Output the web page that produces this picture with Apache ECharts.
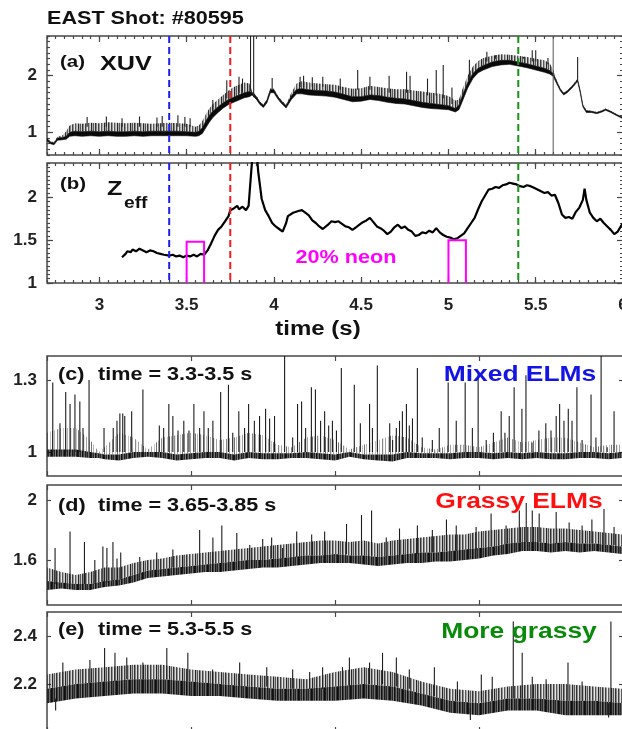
<!DOCTYPE html>
<html><head><meta charset="utf-8">
<script src="https://cdn.jsdelivr.net/npm/echarts@6/dist/echarts.min.js"></script>
<style>html,body{margin:0;padding:0;background:#fff}#c{width:622px;height:729px}</style>
</head><body><div id="c"></div>
<script>
// ---------- DATA ----------
// Panel (a) XUV: [time, band low, band high, grass top]
const xuvRows = [
[2.70,0.85,0.89,0.90],[2.72,0.80,0.83,0.84],[2.74,0.78,0.81,0.83],[2.76,0.86,0.90,0.92],[2.79,0.87,0.91,0.95],
[2.81,0.88,0.93,1.02],[2.83,0.93,1.00,1.12],[2.86,0.94,1.02,1.16],[2.90,0.93,1.01,1.15],[2.95,0.94,1.02,1.17],
[3.00,0.93,1.01,1.16],[3.05,0.94,1.02,1.18],[3.10,0.93,1.01,1.17],[3.15,0.93,1.01,1.16],[3.20,0.94,1.02,1.17],
[3.25,0.93,1.01,1.16],[3.30,0.94,1.02,1.15],[3.35,0.94,1.02,1.16],[3.40,0.94,1.02,1.17],[3.45,0.94,1.02,1.16],
[3.50,0.94,1.01,1.15],[3.55,0.93,1.00,1.10],[3.57,0.94,1.02,1.12],[3.59,0.98,1.08,1.20],[3.61,1.08,1.20,1.32],
[3.63,1.18,1.30,1.42],[3.65,1.26,1.37,1.50],[3.68,1.35,1.45,1.58],[3.71,1.43,1.52,1.66],[3.74,1.49,1.58,1.74],
[3.77,1.53,1.62,1.80],[3.80,1.57,1.66,1.84],[3.83,1.61,1.70,1.88],[3.86,1.63,1.72,1.86],[3.875,1.66,1.70,1.72],
[3.90,1.58,1.63,1.65],[3.92,1.49,1.53,1.54],[3.94,1.44,1.48,1.49],[3.96,1.52,1.57,1.58],[3.98,1.70,1.76,1.78],
[4.00,1.70,1.75,1.77],[4.02,1.60,1.64,1.66],[4.04,1.52,1.56,1.58],[4.07,1.43,1.47,1.49],[4.10,1.58,1.64,1.70],
[4.13,1.68,1.76,1.86],[4.16,1.68,1.77,1.90],[4.20,1.66,1.75,1.88],[4.25,1.65,1.74,1.86],[4.30,1.64,1.73,1.85],
[4.35,1.62,1.71,1.84],[4.40,1.58,1.67,1.80],[4.45,1.54,1.63,1.77],[4.50,1.55,1.63,1.78],[4.55,1.58,1.66,1.82],
[4.60,1.56,1.65,1.80],[4.65,1.53,1.62,1.78],[4.70,1.51,1.60,1.76],[4.75,1.50,1.59,1.76],[4.80,1.47,1.56,1.74],
[4.85,1.44,1.53,1.72],[4.90,1.42,1.51,1.70],[4.95,1.41,1.49,1.68],[5.00,1.40,1.47,1.64],[5.04,1.36,1.42,1.56],
[5.06,1.40,1.48,1.58],[5.08,1.55,1.65,1.76],[5.11,1.78,1.88,2.00],[5.14,1.95,2.04,2.16],[5.17,2.05,2.13,2.26],
[5.20,2.10,2.18,2.31],[5.25,2.16,2.24,2.35],[5.30,2.19,2.27,2.38],[5.35,2.20,2.27,2.37],[5.40,2.17,2.24,2.35],
[5.45,2.14,2.21,2.33],[5.50,2.10,2.17,2.30],[5.55,2.06,2.13,2.27],[5.58,2.03,2.09,2.22],[5.60,1.99,2.04,2.10],
[5.62,1.86,1.90,1.92],[5.64,1.74,1.77,1.78],[5.66,1.66,1.69,1.70],[5.68,1.70,1.73,1.74],[5.71,1.79,1.82,1.83],
[5.74,1.90,1.93,1.95],[5.755,1.70,1.73,1.74],[5.77,1.45,1.48,1.49],[5.79,1.35,1.38,1.39],[5.82,1.35,1.37,1.38],
[5.85,1.33,1.35,1.36],[5.88,1.36,1.38,1.39],[5.90,1.39,1.41,1.42],[5.93,1.35,1.37,1.38],[5.96,1.30,1.32,1.33],
[6.00,1.24,1.26,1.27]
];
// XUV spikes: [time, from, to]
const xuvSpikes = [
[2.93,1.1,1.27],[3.04,1.1,1.28],[3.13,1.1,1.25],[3.23,1.1,1.28],[3.33,1.1,1.26],[3.36,1.1,1.29],[3.45,1.1,1.30],
[3.49,1.1,1.27],[3.52,1.1,1.25],[3.65,1.4,1.57],[3.73,1.6,1.92],[3.80,1.7,1.98],[3.82,1.7,1.95],
[3.866,1.72,2.7],[3.884,1.62,2.7],[3.99,1.76,1.96],
[4.15,1.8,1.98],[4.17,1.8,2.00],[4.22,1.8,1.97],[4.28,1.8,1.98],[4.38,1.75,1.95],[4.48,1.75,2.10],[4.55,1.75,1.98],
[4.66,1.7,2.00],[4.76,1.7,2.07],[4.78,1.7,2.00],[4.88,1.65,1.95],[4.93,1.65,2.10],[4.97,1.6,2.19],[5.02,1.5,1.79],
[5.12,1.9,2.28],[5.22,2.25,2.42],[5.27,2.3,2.36],[5.43,2.3,2.33],[5.48,2.25,2.45],[5.50,2.25,2.45],[5.57,2.2,2.31],
[5.74,1.93,2.33]
];
const xuvGlitch = [[5.60,0.6,2.7]];

// Panel (b) Zeff: [time, value]
const zeffRows = [
[3.13,1.30],[3.15,1.34],[3.16,1.37],[3.18,1.36],[3.19,1.39],[3.21,1.37],[3.23,1.40],[3.25,1.38],[3.27,1.36],[3.29,1.38],
[3.31,1.37],[3.33,1.35],[3.35,1.34],[3.37,1.33],[3.40,1.32],[3.42,1.33],[3.44,1.31],[3.46,1.32],[3.48,1.30],[3.50,1.32],
[3.52,1.31],[3.54,1.33],[3.56,1.31],[3.58,1.34],[3.60,1.33],[3.62,1.38],[3.64,1.46],[3.66,1.55],[3.68,1.62],[3.70,1.66],
[3.72,1.72],[3.74,1.78],[3.75,1.85],[3.77,1.87],[3.79,1.90],[3.80,1.86],[3.82,1.89],[3.84,1.85],[3.855,1.90],[3.87,2.30],
[3.88,2.55],[3.90,2.55],[3.91,2.30],[3.93,1.98],[3.95,1.85],[3.97,1.78],[3.99,1.70],[4.01,1.66],[4.03,1.63],[4.05,1.60],
[4.07,1.70],[4.08,1.78],[4.09,1.76],[4.11,1.82],[4.14,1.84],[4.16,1.85],[4.18,1.82],[4.20,1.79],[4.22,1.73],[4.24,1.70],
[4.26,1.66],[4.28,1.63],[4.29,1.65],[4.31,1.68],[4.33,1.72],[4.35,1.71],[4.37,1.72],[4.39,1.69],[4.41,1.66],[4.43,1.65],
[4.45,1.62],[4.47,1.65],[4.49,1.68],[4.51,1.71],[4.53,1.73],[4.55,1.76],[4.57,1.71],[4.59,1.66],[4.61,1.64],[4.63,1.61],
[4.65,1.57],[4.67,1.60],[4.69,1.65],[4.71,1.68],[4.73,1.64],[4.75,1.66],[4.77,1.62],[4.79,1.60],[4.81,1.55],[4.83,1.56],
[4.85,1.59],[4.87,1.58],[4.89,1.61],[4.91,1.59],[4.93,1.64],[4.95,1.59],[4.97,1.56],[4.99,1.54],[5.01,1.53],[5.03,1.51],
[5.05,1.52],[5.07,1.55],[5.09,1.58],[5.11,1.64],[5.13,1.70],[5.15,1.76],[5.17,1.86],[5.19,1.95],[5.21,2.02],[5.23,2.09],
[5.25,2.10],[5.27,2.12],[5.29,2.11],[5.31,2.14],[5.33,2.15],[5.35,2.17],[5.37,2.16],[5.39,2.15],[5.41,2.13],[5.43,2.12],
[5.45,2.14],[5.47,2.13],[5.49,2.11],[5.51,2.09],[5.53,2.07],[5.55,2.05],[5.57,2.06],[5.59,2.02],[5.61,2.03],[5.63,1.93],
[5.65,1.80],[5.67,1.76],[5.69,1.77],[5.71,1.75],[5.73,1.83],[5.75,1.88],[5.77,1.97],[5.78,2.10],[5.79,1.97],[5.81,1.82],
[5.83,1.76],[5.85,1.72],[5.87,1.75],[5.89,1.70],[5.91,1.66],[5.93,1.62],[5.95,1.57],[5.97,1.60],[5.99,1.67],[6.00,1.70]
];
const markerTimes = [3.4, 3.75, 5.4];
const neonStart = [3.5, 5.0];
const neonEnd = [3.6, 5.1];
const neonTop = [1.48, 1.5];

// Panel (c) 3.3-3.5 s: band [time, low, core top, grass top]
const cRows = [
[3.300,0.98,1.01,1.08],[3.305,0.98,1.01,1.10],[3.310,0.98,1.01,1.10],[3.315,0.975,1.00,1.05],[3.318,0.975,0.995,1.00],
[3.320,0.97,0.99,1.02],[3.325,0.965,0.99,1.08],[3.330,0.975,1.00,1.06],[3.335,0.98,1.00,1.01],[3.340,0.975,1.00,1.06],
[3.345,0.965,0.99,1.07],[3.350,0.97,0.995,1.08],[3.355,0.975,1.00,1.07],[3.360,0.975,1.00,1.05],[3.365,0.965,0.99,1.06],
[3.370,0.975,1.00,1.08],[3.375,0.97,0.995,1.07],[3.380,0.97,0.995,1.03],[3.385,0.975,0.995,1.02],[3.390,0.975,1.00,1.06],
[3.395,0.97,0.995,1.07],[3.400,0.965,0.99,1.05],[3.405,0.98,1.00,1.01],[3.410,0.97,0.99,1.03],[3.415,0.965,0.99,1.05],
[3.420,0.96,0.99,1.07],[3.425,0.975,1.00,1.06],[3.430,0.975,0.995,1.02],[3.435,0.975,0.995,1.01],[3.440,0.97,0.995,1.03],
[3.445,0.975,1.00,1.03],[3.450,0.975,1.00,1.02],[3.455,0.97,0.995,1.04],[3.460,0.975,1.00,1.06],[3.465,0.97,0.995,1.04],
[3.470,0.975,1.00,1.05],[3.475,0.97,0.995,1.06],[3.480,0.97,0.995,1.06],[3.485,0.975,1.00,1.04],[3.490,0.975,1.00,1.02],
[3.495,0.97,0.995,1.03],[3.500,0.975,1.00,1.03]
];
const cSpikes = [
[3.3020,1.0,1.29],[3.3045,1.0,1.12],[3.3065,1.0,1.25],[3.3080,1.0,1.20],[3.3097,1.0,1.24],[3.3114,1.0,1.21],[3.3125,1.0,1.10],
[3.3146,1.0,1.30],[3.3198,1.0,1.10],[3.3230,1.0,1.10],[3.3243,1.0,1.13],[3.3253,1.0,1.16],[3.3263,1.0,1.16],[3.3270,1.0,1.15],
[3.3294,1.0,1.17],[3.3333,1.0,1.26],[3.3390,1.0,1.11],[3.3405,1.0,1.10],[3.3423,1.0,1.20],[3.3437,1.0,1.15],[3.3455,1.0,1.09],
[3.3475,1.0,1.13],[3.3493,1.0,1.09],[3.3510,1.0,1.20],[3.3530,1.0,1.10],[3.3545,1.0,1.17],[3.3560,1.0,1.10],[3.3576,1.0,1.13],
[3.3603,1.0,1.25],[3.3630,1.0,1.28],[3.3645,1.0,1.08],[3.3666,1.0,1.17],[3.3686,1.0,1.10],[3.3700,1.0,1.20],[3.3720,1.0,1.13],
[3.3738,1.0,1.15],[3.3759,1.0,1.18],[3.3773,1.0,1.14],[3.3790,1.0,1.15],[3.3825,1.0,1.40],[3.3853,1.0,1.06],[3.3870,1.0,1.20],
[3.3884,1.0,1.21],[3.3898,1.0,1.10],[3.3918,1.0,1.27],[3.3932,1.0,1.26],[3.3950,1.0,1.13],[3.3964,1.0,1.17],[3.3978,1.0,1.11],
[3.3991,1.0,1.13],[3.4005,1.0,1.09],[3.4022,1.0,1.35],[3.4067,1.0,1.28],[3.4088,1.0,1.12],[3.4120,1.0,1.20],[3.4130,1.0,1.10],
[3.4147,1.0,1.36],[3.4190,1.0,1.12],[3.4200,1.0,1.05],[3.4213,1.0,1.10],[3.4224,1.0,1.13],[3.4234,1.0,1.17],[3.4248,1.0,1.20],
[3.4258,1.0,1.11],[3.4269,1.0,1.14],[3.4286,1.0,1.35],[3.4303,1.0,1.06],[3.4338,1.0,1.05],[3.4362,1.0,1.10],[3.4393,1.0,1.29],
[3.4421,1.0,1.13],[3.4452,1.0,1.29],[3.4477,1.0,1.10],[3.4497,1.0,1.33],[3.4525,1.0,1.05],[3.4550,1.0,1.08],[3.4577,1.0,1.17],
[3.4590,1.0,1.08],[3.4605,1.0,1.15],[3.4622,1.0,1.27],[3.4649,1.0,1.18],[3.4663,1.0,1.32],[3.4684,1.0,1.04],[3.4708,1.0,1.09],
[3.4732,1.0,1.12],[3.4750,1.0,1.09],[3.4768,1.0,1.15],[3.4780,1.0,1.20],[3.4795,1.0,1.13],[3.4810,1.0,1.18],[3.4823,1.0,1.13],
[3.4840,1.0,1.27],[3.4858,1.0,1.05],[3.4889,1.0,1.24],[3.4906,1.0,1.06],[3.4924,1.0,1.40],[3.4945,1.0,1.02],[3.4969,1.0,1.17]
];

// Panel (d) 3.65-3.85 s
const dRows = [
[3.650,1.40,1.46,1.55],[3.655,1.41,1.45,1.52],[3.660,1.40,1.44,1.50],[3.665,1.40,1.44,1.52],[3.670,1.42,1.46,1.55],
[3.675,1.43,1.47,1.55],[3.680,1.45,1.50,1.58],[3.685,1.48,1.53,1.60],[3.690,1.49,1.54,1.61],[3.695,1.50,1.55,1.63],
[3.700,1.51,1.56,1.64],[3.705,1.52,1.57,1.65],[3.710,1.52,1.58,1.66],[3.715,1.53,1.59,1.67],[3.720,1.54,1.60,1.68],
[3.725,1.55,1.60,1.69],[3.730,1.55,1.61,1.70],[3.735,1.56,1.62,1.71],[3.740,1.57,1.63,1.72],[3.745,1.58,1.63,1.73],
[3.750,1.58,1.64,1.73],[3.755,1.58,1.63,1.72],[3.760,1.57,1.63,1.73],[3.765,1.56,1.62,1.71],[3.770,1.57,1.63,1.73],
[3.775,1.58,1.64,1.74],[3.780,1.58,1.65,1.75],[3.785,1.59,1.65,1.76],[3.790,1.59,1.66,1.77],[3.795,1.60,1.67,1.77],
[3.800,1.61,1.68,1.79],[3.805,1.63,1.69,1.80],[3.810,1.64,1.71,1.81],[3.815,1.66,1.72,1.82],[3.820,1.66,1.72,1.82],
[3.825,1.65,1.71,1.81],[3.830,1.66,1.72,1.81],[3.835,1.65,1.71,1.80],[3.840,1.66,1.71,1.79],[3.845,1.65,1.70,1.78],
[3.850,1.64,1.69,1.77]
];
const dSpikes = [
[3.6528,1.44,1.68],[3.6580,1.44,1.79],[3.6630,1.44,1.72],[3.6666,1.44,1.60],[3.6694,1.45,1.69],[3.6708,1.45,1.68],
[3.6729,1.46,1.72],[3.6743,1.46,1.61],[3.6756,1.47,1.65],[3.6822,1.51,1.62],[3.6881,1.53,1.65],[3.6937,1.55,1.67],
[3.6971,1.55,1.63],[3.7030,1.56,1.80],[3.7076,1.57,1.75],[3.7107,1.58,1.83],[3.7159,1.59,1.78],[3.7204,1.60,1.70],
[3.7249,1.60,1.74],[3.7280,1.61,1.75],[3.7318,1.61,1.68],[3.7367,1.62,1.79],[3.7419,1.63,1.77],[3.7464,1.63,1.79],
[3.7540,1.64,1.84],[3.7592,1.63,1.90],[3.7627,1.63,1.93],[3.7678,1.62,1.75],[3.7724,1.63,1.81],[3.7786,1.64,1.83],
[3.7838,1.65,1.80],[3.7887,1.66,1.87],[3.7921,1.66,1.83],[3.7990,1.67,1.82],[3.8042,1.69,1.91],[3.8094,1.70,1.83],
[3.8140,1.72,1.93],[3.8164,1.72,1.98],[3.8185,1.72,1.93],[3.8209,1.72,1.91],[3.8268,1.71,1.92],[3.8313,1.72,1.85],
[3.8358,1.71,1.83],[3.8392,1.71,1.87],[3.8434,1.70,1.94],[3.8469,1.70,1.82]
];

// Panel (e) 5.3-5.5 s
const eRows = [
[5.30,2.12,2.18,2.24],[5.31,2.14,2.20,2.26],[5.32,2.15,2.21,2.27],[5.33,2.16,2.22,2.28],[5.34,2.16,2.22,2.28],
[5.35,2.15,2.21,2.26],[5.36,2.15,2.20,2.25],[5.37,2.14,2.19,2.24],[5.38,2.13,2.18,2.23],[5.39,2.13,2.18,2.22],
[5.40,2.13,2.19,2.25],[5.41,2.14,2.20,2.27],[5.42,2.13,2.19,2.25],[5.43,2.11,2.16,2.21],[5.44,2.08,2.13,2.18],
[5.45,2.07,2.12,2.17],[5.46,2.09,2.14,2.19],[5.47,2.09,2.14,2.20],[5.48,2.07,2.13,2.20],[5.49,2.07,2.13,2.19],
[5.50,2.07,2.12,2.18]
];
const eSpikes = [
[5.3055,2.19,2.29],[5.3149,2.20,2.30],[5.3200,2.21,2.35],[5.3236,2.21,2.33],[5.3277,2.22,2.31],[5.3333,2.22,2.29],
[5.3416,2.22,2.35],[5.3489,2.21,2.33],[5.3575,2.20,2.26],[5.3669,2.19,2.29],[5.3763,2.19,2.27],[5.3853,2.18,2.26],
[5.3912,2.18,2.25],[5.3957,2.18,2.27],[5.4026,2.19,2.27],[5.4050,2.19,2.31],[5.4120,2.20,2.29],[5.4165,2.20,2.33],
[5.4213,2.19,2.31],[5.4258,2.18,2.26],[5.4345,2.15,2.27],[5.4425,2.13,2.21],[5.4508,2.13,2.24],[5.4546,2.13,2.23],
[5.4619,2.14,2.46],[5.4650,2.14,2.33],[5.4685,2.14,2.23],[5.4733,2.14,2.22],[5.4809,2.13,2.29],[5.4858,2.13,2.21],
[5.4958,2.12,2.46],[5.4950,2.12,2.06],[5.3030,2.14,2.09],[5.4470,2.10,2.05]
];

// Tick labels
const xLabelsAB = [3, 3.5, 4, 4.5, 5, 5.5, 6];
const yLabelsA = [1, 2];
const yLabelsB = [1, 1.5, 2];
const yLabelsC = [1, 1.3];
const yLabelsD = [1.6, 2];
const yLabelsE = [2.2, 2.4];

// ---------- LAYOUT / STYLE ----------
const FONT = '"Liberation Sans", Arial, Helvetica, sans-serif';
const FRAME = '#474747';
const markerColors = ['#1f1ff0', '#f01f1f', '#1a931a'];
const panels = [
  {top:36,  height:119, xmin:2.7,  xmax:6,    xint:0.05, ymin:0.6, ymax:2.7, yint:0.1,  yLabels:yLabelsA, xLabels:null,      xMajor:xLabelsAB},
  {top:163, height:120, xmin:2.7,  xmax:6,    xint:0.05, ymin:1.0, ymax:2.4, yint:0.05, yLabels:yLabelsB, xLabels:xLabelsAB, xMajor:xLabelsAB},
  {top:356, height:120, xmin:3.3,  xmax:3.5,  xint:0.05, ymin:0.9, ymax:1.4, yint:null, yLabels:yLabelsC},
  {top:485, height:120, xmin:3.65, xmax:3.85, xint:0.05, ymin:1.3, ymax:2.1, yint:null, yLabels:yLabelsD},
  {top:612, height:120, xmin:5.3,  xmax:5.5,  xint:0.05, ymin:2.0, ymax:2.5, yint:null, yLabels:yLabelsE}
];

// texture patterns (visual style for dense ELM "grass")
function makePattern(alphas, rgb) {
  const c = document.createElement('canvas');
  c.width = alphas.length; c.height = 4;
  const ctx = c.getContext('2d');
  alphas.forEach((a, i) => { ctx.fillStyle = 'rgba(' + rgb + ',' + a + ')'; ctx.fillRect(i, 0, 1, 4); });
  return {image: c, repeat: 'repeat'};
}
const patDark = makePattern([0.95,0.7,0.9,0.55,1,0.8,0.6,0.95,0.75,0.9,0.6,0.85,1], '15,15,15');
const patMed = makePattern([0.9,0.35,0.7,0.2,0.85,0.5,0.15,0.8,0.45,0.1,0.7,0.35,0.2], '15,15,15');
const patLight = makePattern([0.75,0.1,0.5,0,0.7,0.25,0,0.6,0.3,0,0.5,0.15,0.05], '20,20,20');
const patFaint = makePattern([0.6,0,0.3,0,0,0.5,0.1,0,0.4,0,0,0.25,0], '20,20,20');

const grid = [], xAxis = [], yAxis = [], mainX = [], mainY = [];
function tickAxis(g, pos, min, max, interval, ticks, len, labels, margin) {
  const ax = {gridIndex:g, type:'value', position:pos, min:min, max:max,
    axisLine:{show:false}, splitLine:{show:false},
    axisTick:{show:true, inside:true, length:len, lineStyle:{color:FRAME, width:1.2}},
    axisLabel:{show:false}};
  if (interval) ax.interval = interval;
  if (ticks) ax.axisTick.customValues = ticks;
  if (labels) ax.axisLabel = {show:true, customValues:labels, fontSize:17, fontWeight:'bold',
    fontFamily:FONT, color:'#222', margin:margin, formatter:(v)=>String(v)};
  return ax;
}
panels.forEach((p, g) => {
  grid.push({left:47, width:576, top:p.top, height:p.height, show:true, borderColor:FRAME, borderWidth:1.5,
    backgroundColor:'rgba(0,0,0,0)', containLabel:false, outerBoundsMode:'none'});
  const big = g < 2;
  mainX[g] = xAxis.length;
  xAxis.push(tickAxis(g, 'bottom', p.xmin, p.xmax, p.xint, null, big ? 3 : 5, p.xLabels, 14));
  xAxis.push(tickAxis(g, 'top', p.xmin, p.xmax, p.xint, null, big ? 3 : 5, null));
  if (big) {
    xAxis.push(tickAxis(g, 'bottom', p.xmin, p.xmax, null, p.xMajor, 6, null));
    xAxis.push(tickAxis(g, 'top', p.xmin, p.xmax, null, p.xMajor, 6, null));
  }
  mainY[g] = yAxis.length;
  if (big) {
    yAxis.push(tickAxis(g, 'left', p.ymin, p.ymax, p.yint, null, 3, p.yLabels, 10));
    yAxis.push(tickAxis(g, 'right', p.ymin, p.ymax, p.yint, null, 3, null));
    yAxis.push(tickAxis(g, 'left', p.ymin, p.ymax, null, p.yLabels, 6, null));
    yAxis.push(tickAxis(g, 'right', p.ymin, p.ymax, null, p.yLabels, 6, null));
  } else {
    yAxis.push(tickAxis(g, 'left', p.ymin, p.ymax, null, p.yLabels, 4, p.yLabels, 10));
    yAxis.push(tickAxis(g, 'right', p.ymin, p.ymax, null, p.yLabels, 4, null));
  }
});

function band(g, rows, loCol, hiCol, fill, stroke) {
  return {type:'custom', xAxisIndex:mainX[g], yAxisIndex:mainY[g], clip:true, silent:true, z:2,
    data: rows.map(r => [r[0], r[loCol], r[hiCol]]),
    renderItem(params, api) {
      if (params.dataIndex !== 0) return null;
      const pts = [];
      for (let i = 0; i < rows.length; i++) pts.push(api.coord([rows[i][0], rows[i][hiCol]]));
      for (let i = rows.length - 1; i >= 0; i--) pts.push(api.coord([rows[i][0], rows[i][loCol]]));
      return {type:'polygon', shape:{points:pts}, style:{fill:fill, stroke:stroke || null, lineWidth:0.6}};
    }};
}
function spikes(g, data, color, width) {
  return {type:'custom', xAxisIndex:mainX[g], yAxisIndex:mainY[g], clip:true, silent:true, z:3,
    data: data,
    renderItem(params, api) {
      const a = api.coord([api.value(0), api.value(1)]);
      const b = api.coord([api.value(0), api.value(2)]);
      return {type:'line', shape:{x1:a[0], y1:a[1], x2:b[0], y2:b[1]}, style:{stroke:color, lineWidth:width}};
    }};
}
function markers(g) {
  const p = panels[g];
  return {type:'custom', xAxisIndex:mainX[g], yAxisIndex:mainY[g], clip:true, silent:true, z:5,
    data: markerTimes.map(t => [t]),
    renderItem(params, api) {
      const a = api.coord([api.value(0), p.ymax]);
      const b = api.coord([api.value(0), p.ymin]);
      return {type:'line', shape:{x1:a[0], y1:a[1], x2:b[0], y2:b[1]},
        style:{stroke:markerColors[params.dataIndex], lineWidth:2, lineDash:[7,4]}};
    }};
}

const series = [
  band(0, xuvRows, 2, 3, patMed),
  band(0, xuvRows, 1, 2, '#0a0a0a', '#0a0a0a'),
  spikes(0, xuvSpikes, '#222', 1.1),
  spikes(0, xuvGlitch, '#555', 1),
  markers(0),
  {type:'line', xAxisIndex:mainX[1], yAxisIndex:mainY[1], data:zeffRows, showSymbol:false, symbol:'none',
    lineStyle:{color:'#000', width:2.2}, z:4, silent:true, animation:false},
  markers(1),
  {type:'custom', xAxisIndex:mainX[1], yAxisIndex:mainY[1], clip:true, silent:true, z:5,
    data: neonStart.map((s, i) => [s, neonEnd[i], neonTop[i]]),
    renderItem(params, api) {
      const s = api.value(0), e = api.value(1), top = api.value(2);
      const pts = [api.coord([s, 1]), api.coord([s, top]), api.coord([e, top]), api.coord([e, 1])];
      return {type:'polyline', shape:{points:pts}, style:{stroke:'#ff00ff', lineWidth:2, fill:null}};
    }},
  band(2, cRows, 2, 3, patFaint),
  band(2, cRows, 1, 2, patDark),
  spikes(2, cSpikes, '#1c1c1c', 1.1),
  band(3, dRows, 2, 3, patMed),
  band(3, dRows, 1, 2, patDark),
  spikes(3, dSpikes, '#1c1c1c', 1.1),
  band(4, eRows, 2, 3, patMed),
  band(4, eRows, 1, 2, patDark),
  spikes(4, eSpikes, '#1c1c1c', 1.1)
];

function txt(x, y, text, size, color, align, sx) {
  return {type:'text', x:x, y:y, scaleX:sx || 1.2, z:100, silent:true,
    style:{text:text, fontSize:size, fontWeight:'bold', fontFamily:FONT, fill:color,
      align:align || 'left', verticalAlign:'middle', textAlign:align || 'left', textVerticalAlign:'middle'}};
}
const graphic = [
  txt(47, 19, 'EAST Shot: #80595', 18, '#111'),
  txt(60, 62, '(a)', 17, '#111'),
  txt(100, 64, 'XUV', 21, '#111'),
  txt(60, 184, '(b)', 17, '#111'),
  txt(107, 189, 'Z', 21, '#111'),
  txt(124, 204, 'eff', 16, '#111'),
  txt(346, 258, '20% neon', 18, '#ff00ff', 'center'),
  txt(318, 329, 'time (s)', 20, '#111', 'center'),
  txt(58, 375, '(c)', 18, '#111'),
  txt(98, 375, 'time = 3.3-3.5 s', 18, '#111'),
  txt(520, 375, 'Mixed ELMs', 22, '#1414e6', 'center'),
  txt(58, 506, '(d)', 18, '#111'),
  txt(98, 506, 'time = 3.65-3.85 s', 18, '#111'),
  txt(519, 502, 'Grassy ELMs', 22, '#ff1010', 'center'),
  txt(58, 630, '(e)', 18, '#111'),
  txt(98, 630, 'time = 5.3-5.5 s', 18, '#111'),
  txt(519, 632, 'More grassy', 22, '#0a8a0a', 'center')
];

const chart = echarts.init(document.getElementById('c'), null, {renderer:'canvas'});
chart.setOption({animation:false, backgroundColor:'#fff', grid, xAxis, yAxis, series, graphic});
</script></body></html>
